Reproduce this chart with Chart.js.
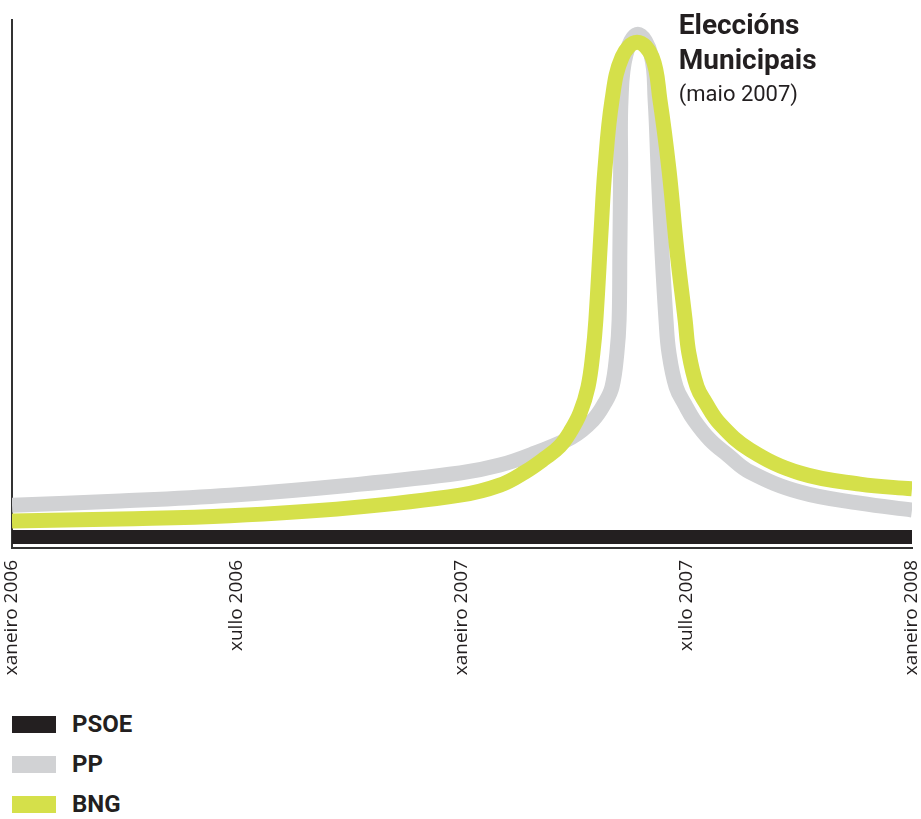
<!DOCTYPE html>
<html>
<head>
<meta charset="utf-8">
<script src="https://cdn.jsdelivr.net/npm/chart.js@4/dist/chart.umd.min.js"></script>
<style>
  body { margin: 0; background: #fff; font-family: Roboto, sans-serif; }
  #wrap { position: relative; width: 921px; height: 700px; }
  .legend { position: absolute; left: 12px; top: 704px; }
  .item { height: 40px; display: flex; align-items: center; font-weight: bold; font-size: 24px; color: #231f20; }
  .sw { width: 44px; height: 17px; margin-right: 16px; }
</style>
</head>
<body>
<div id="wrap"><canvas id="myChart"></canvas></div>
<div class="legend">
  <div class="item"><span class="sw" style="background:#231f20"></span>PSOE</div>
  <div class="item"><span class="sw" style="background:#d1d2d4"></span>PP</div>
  <div class="item"><span class="sw" style="background:#d5e04a"></span>BNG</div>
</div>
<script>
// months since xaneiro 2006
var tickLabels = ['xaneiro 2006', 'xullo 2006', 'xaneiro 2007', 'xullo 2007', 'xaneiro 2008']

var psoeMonths = [0, 24]
var psoeValues = [2.1, 2.1]

var ppMonths = [0, 2.88, 5.81, 9.01, 11.95, 13.01, 13.95, 14.93, 15.49, 15.81, 16.0, 16.13, 16.19, 16.21, 16.23, 16.24, 16.37, 16.69, 17.04, 17.15, 17.23, 17.33, 17.44, 17.52, 17.71, 17.95, 18.19, 18.61, 19.09, 19.68, 21.01, 22.61, 24]
var ppValues = [8.1, 8.9, 10.0, 11.9, 14.2, 15.7, 18.0, 21.0, 24.2, 27.5, 30.5, 36.9, 43.2, 56.4, 71.6, 84.8, 93.4, 97.3, 93.4, 84.8, 71.6, 56.4, 43.2, 36.9, 30.5, 27.1, 24.2, 20.5, 17.6, 14.4, 10.6, 8.5, 7.2]

var bngMonths = [0, 2.88, 5.81, 9.01, 11.95, 13.01, 13.68, 14.21, 14.61, 14.91, 15.15, 15.36, 15.49, 15.57, 15.71, 15.81, 16.0, 16.27, 16.67, 17.07, 17.28, 17.52, 17.73, 17.95, 18.05, 18.27, 18.48, 18.88, 19.68, 21.01, 22.61, 24]
var bngValues = [5.1, 5.5, 6.1, 7.6, 10.0, 11.9, 14.4, 17.0, 19.3, 22.3, 25.6, 30.5, 36.9, 43.2, 60.2, 71.6, 84.8, 93.0, 95.8, 93.0, 84.8, 71.6, 56.4, 43.2, 36.9, 30.5, 27.7, 23.5, 18.6, 14.2, 12.1, 11.2]

function toPoints(xs, ys) {
  return xs.map(function (x, i) { return {x: x, y: ys[i]} })
}

var notePlugin = {
  id: 'note',
  afterDraw: function (chart) {
    var ctx = chart.ctx
    var x = chart.scales.x.getPixelForValue(17.78)
    ctx.save()
    ctx.fillStyle = '#231f20'
    ctx.textBaseline = 'alphabetic'
    ctx.textAlign = 'left'
    ctx.font = 'bold 28px Roboto'
    ctx.fillText('Eleccións', x, 34)
    ctx.fillText('Municipais', x, 69)
    ctx.font = '22px Roboto'
    ctx.fillText('(maio 2007)', x, 101)
    ctx.restore()
  }
}

var ctxHtml = document.getElementById('myChart').getContext('2d')
var myChart = new Chart(ctxHtml, {
  type: 'line',
  data: {
    datasets: [{
      label: 'PSOE',
      data: toPoints(psoeMonths, psoeValues),
      borderColor: '#231f20',
      borderWidth: 14,
      order: 3
    }, {
      label: 'PP',
      data: toPoints(ppMonths, ppValues),
      borderColor: '#d1d2d4',
      borderWidth: 15,
      order: 2
    }, {
      label: 'BNG',
      data: toPoints(bngMonths, bngValues),
      borderColor: '#d5e04a',
      borderWidth: 15,
      order: 1
    }]
  },
  options: {
    responsive: true,
    maintainAspectRatio: false,
    animation: false,
    layout: { padding: { left: 0, right: 9, top: 20, bottom: 0 } },
    elements: {
      point: { radius: 0 },
      line: { tension: 0.4, borderCapStyle: 'butt', borderJoinStyle: 'round', fill: false }
    },
    plugins: { legend: { display: false }, tooltip: { enabled: false } },
    scales: {
      x: {
        type: 'linear',
        min: 0,
        max: 24,
        grid: { display: false },
        border: { display: true, color: '#333', width: 2 },
        afterFit: function (s) { s.height = 152; s.paddingLeft = 0; s.paddingRight = 0 },
        ticks: {
          stepSize: 6,
          autoSkip: false,
          minRotation: 90,
          maxRotation: 90,
          color: '#231f20',
          font: { family: 'Open Sans', size: 19 },
          padding: 4,
          callback: function (v) { return tickLabels[v / 6] }
        }
      },
      y: {
        min: 0,
        max: 100,
        grid: { display: false },
        border: { display: true, color: '#333', width: 2 },
        afterFit: function (s) { s.width = 12 },
        ticks: { display: false }
      }
    }
  },
  plugins: [notePlugin]
})
</script>
</body>
</html>
